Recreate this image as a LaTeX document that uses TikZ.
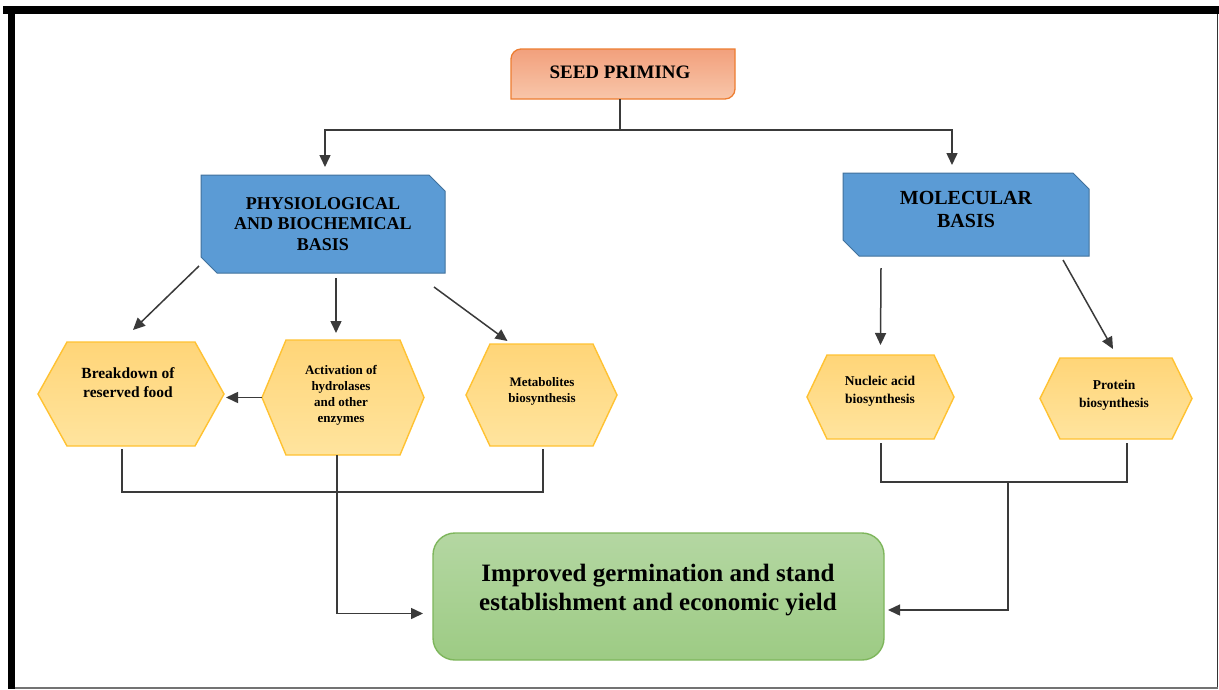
\documentclass[tikz,border=0pt]{standalone}
\usepackage{fontspec}
\setmainfont{Liberation Serif}
\usetikzlibrary{arrows.meta,calc}
\definecolor{seedtop}{HTML}{F2A07C}
\definecolor{seedbot}{HTML}{F8C6AA}
\definecolor{seedline}{HTML}{ED7D31}
\definecolor{bluefill}{HTML}{5B9BD5}
\definecolor{blueline}{HTML}{41719C}
\definecolor{hextop}{HTML}{FFD578}
\definecolor{hexbot}{HTML}{FFE49E}
\definecolor{hexline}{HTML}{FFC232}
\definecolor{greentop}{HTML}{B4D7A2}
\definecolor{greenbot}{HTML}{9DCB84}
\definecolor{greenline}{HTML}{7EB65C}
\definecolor{linec}{HTML}{3A3A3A}
\tikzset{
  holder/.style={rectangle, draw=none, inner sep=0pt, outer sep=0pt},
  conn/.style={draw=linec, line width=1.5pt},
  arr/.style={conn, -{Triangle[length=12pt,width=11pt]}},
  hexfill/.style={top color=hextop, bottom color=hexbot, draw=hexline, line width=1.4pt},
  bluebox/.style={fill=bluefill, draw=blueline, line width=1pt},
  txt/.style={align=center, inner sep=0pt, font=\bfseries},
}
\newcommand\hexdraw[2]{%
  \shade[hexfill] (#1.west) -- ($(#1.north west)+(#2,0)$) -- ($(#1.north east)+(-#2,0)$)
    -- (#1.east) -- ($(#1.south east)+(-#2,0)$) -- ($(#1.south west)+(#2,0)$) -- cycle;}
\newcommand\snipdraw[2]{%
  \path[bluebox] (#1.north west) -- ($(#1.north east)+(-#2,0)$) -- ($(#1.north east)+(0,#2)$)
    -- (#1.south east) -- ($(#1.south west)+(#2,0)$) -- ($(#1.south west)+(0,-#2)$) -- cycle;}
\begin{document}
\begin{tikzpicture}[x=1pt,y=-1pt]
\useasboundingbox (0,0) rectangle (1219,689);
\fill[white] (0,0) rectangle (1219,689);
% frame
\fill[black] (3,6) rectangle (1219,14);
\fill[black] (8,6) rectangle (15,689);
\draw[black!80, line width=1.6pt] (1217.5,14) -- (1217.5,689);
\draw[black!55, line width=1.4pt] (15,688) -- (1217.5,688);

% holders
\node[holder, minimum width=224pt, minimum height=50pt] (seed) at (623,74) {};
\node[holder, minimum width=244pt, minimum height=98pt] (phys) at (323,224) {};
\node[holder, minimum width=246pt, minimum height=83pt] (mol) at (966,214.5) {};
\node[holder, minimum width=186pt, minimum height=104pt] (bd) at (131,394) {};
\node[holder, minimum width=162pt, minimum height=115pt] (act) at (343,397.5) {};
\node[holder, minimum width=151pt, minimum height=102pt] (met) at (541.5,395) {};
\node[holder, minimum width=147pt, minimum height=84pt] (nuc) at (880.5,397) {};
\node[holder, minimum width=152pt, minimum height=81pt] (pro) at (1116,398.5) {};
\node[holder, draw=greenline, line width=1.4pt, rounded corners=22pt, top color=greentop, bottom color=greenbot,
      minimum width=451pt, minimum height=127pt] (green) at (658.5,596.5) {};

% shapes
\shade[top color=seedtop, bottom color=seedbot, draw=seedline, line width=1.3pt]
  (seed.south west) -- ($(seed.north west)+(0,10)$)
  .. controls ($(seed.north west)+(0,4.5)$) and ($(seed.north west)+(4.5,0)$) .. ($(seed.north west)+(10,0)$)
  -- (seed.north east) -- ($(seed.south east)+(0,-10)$)
  .. controls ($(seed.south east)+(0,-4.5)$) and ($(seed.south east)+(-4.5,0)$) .. ($(seed.south east)+(-10,0)$)
  -- cycle;
\snipdraw{phys}{16}
\snipdraw{mol}{16}
\hexdraw{bd}{29}
\hexdraw{act}{24}
\hexdraw{met}{24}
\hexdraw{nuc}{20}
\hexdraw{pro}{20}

% texts
\node[txt, font=\bfseries\fontsize{19}{20}\selectfont] (seedt) at (620,72) {SEED PRIMING};
\node[txt, font=\bfseries\fontsize{18}{20.5}\selectfont] (physt) at (323,224) {PHYSIOLOGICAL\\AND BIOCHEMICAL\\BASIS};
\node[txt, font=\bfseries\fontsize{20}{23}\selectfont] (molt) at (966,209) {MOLECULAR\\BASIS};
\node[txt, font=\bfseries\fontsize{15.5}{19}\selectfont] (bdt) at (128,383) {Breakdown of\\reserved food};
\node[txt, font=\bfseries\fontsize{13}{16}\selectfont] (actt) at (341,395) {Activation of\\hydrolases\\and other\\enzymes};
\node[txt, font=\bfseries\fontsize{13}{16}\selectfont] (mett) at (542,391) {Metabolites\\biosynthesis};
\node[txt, font=\bfseries\fontsize{13.5}{18}\selectfont] (nuct) at (880,391) {Nucleic acid\\biosynthesis};
\node[txt, font=\bfseries\fontsize{13.5}{18}\selectfont] (prot) at (1114,395) {Protein\\biosynthesis};
\node[txt, font=\bfseries\fontsize{25}{29}\selectfont] (greent) at (658,590) {Improved germination and stand\\establishment and economic yield};

% connectors
\coordinate (jtop) at (620,130);
\draw[conn] (seed.south -| jtop) -- (jtop);
\draw[arr, shorten >=8pt] (jtop) -| ($(phys.north)+(2,0)$);
\draw[arr, shorten >=8pt] (jtop) -| ($(mol.north)+(-14,0)$);

\draw[arr] ($(phys.south west)+(-2,-7)$) -- ($(bd.north)+(2,-12)$);
\draw[arr] ($(phys.south)+(13,5)$) -- ($(act.north)+(-7,-7)$);
\draw[arr] ($(phys.south east)+(-11,14)$) -- ($(met.north)+(-34,-3)$);
\draw[arr] (act.west) -- ($(act.west -| bd.east)+(2,0)$);

\draw[arr] ($(mol.south west)+(38,12)$) -- ($(nuc.north)+(0,-10)$);
\draw[arr] ($(mol.south east)+(-26,4)$) -- ($(pro.north)+(-3,-9)$);

\coordinate (bdl) at ($(bd.south)+(-9,3)$);
\coordinate (metl) at ($(met.south)+(1.5,3)$);
\coordinate (jl1) at (122,492);
\coordinate (jl2) at (543,492);
\draw[conn] (bdl) -- (jl1) -- (jl2) -- (metl);
\draw[arr] ($(act.south)+(-6,0)$) |- ($(green.west)+(-10,17)$);

\coordinate (nucl) at ($(nuc.south)+(0.5,4)$);
\coordinate (prol) at ($(pro.south)+(11,4)$);
\coordinate (jr1) at (881,482);
\coordinate (jr2) at (1127,482);
\coordinate (jr) at (1008,482);
\draw[conn] (nucl) -- (jr1) -- (jr2) -- (prol);
\draw[arr] (jr) |- ($(green.east)+(4,13.5)$);
\end{tikzpicture}
\end{document}
